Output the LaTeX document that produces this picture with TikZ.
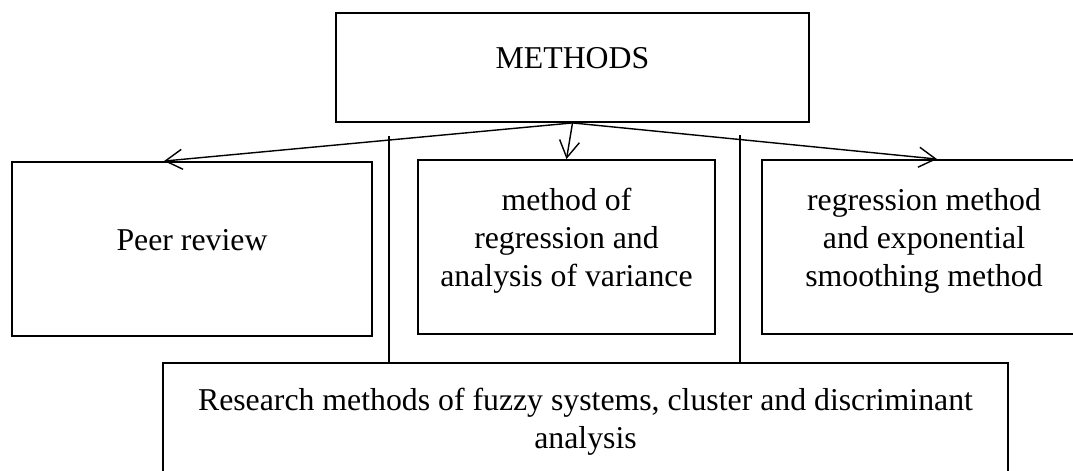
\documentclass[tikz,border=0pt]{standalone}
\usepackage{fontspec}
\setmainfont{Liberation Serif}
\usetikzlibrary{arrows.meta,calc}
\begin{document}
\begin{tikzpicture}[x=0.025cm, y=-0.025cm, box/.style={draw, line width=1.3pt, align=center, inner sep=0pt, text depth=0.475cm, font=\fontsize{22.6}{27}\selectfont}]
	\useasboundingbox (0, 0) rectangle (1073, 471);
	\clip (0, 0) rectangle (1073, 471);
	\node[box, minimum width=11.825cm, minimum height=2.725cm] (methods) at (572.5, 67.5) {METHODS};
	\node[box, minimum width=9cm, minimum height=4.35cm] (peer) at (192, 249) {Peer review};
	\node[box, minimum width=7.425cm, minimum height=4.35cm] (regr) at (566.5, 247) {method of\\regression and\\analysis of variance};
	\node[box, minimum width=8.1cm, minimum height=4.35cm] (expo) at (924, 247) {regression method\\and exponential\\smoothing method};
	\node[box, minimum width=21.125cm, minimum height=3.225cm] (fuzzy) at (585.5, 427.5) {Research methods of fuzzy systems, cluster and discriminant\\analysis};
	\coordinate (lineA) at (389, 136);
	\coordinate (lineB) at (740, 135);
	\draw[line width=1pt] (lineA) -- (lineA |- fuzzy.north);
	\draw[line width=1pt] (lineB) -- (lineB |- fuzzy.north);
	\draw[line width=1pt, -{Straight Barb[length=0.42cm, width=0.5cm]}] (methods.south) -- ($(peer.north west)+(153, 0)$);
	\draw[line width=1pt, -{Straight Barb[length=0.42cm, width=0.5cm]}] (methods.south) -- (regr.north);
	\draw[line width=1pt, -{Straight Barb[length=0.42cm, width=0.5cm]}] (methods.south) -- ($(expo.north)+(13, 0)$);
\end{tikzpicture}
\end{document}
